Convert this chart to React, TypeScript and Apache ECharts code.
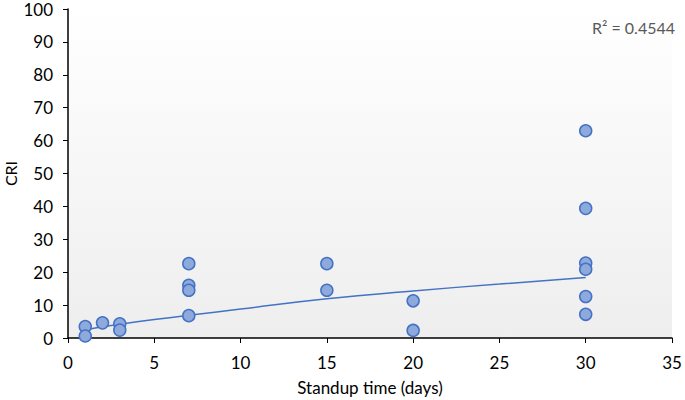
import React, { useEffect, useRef } from "react";
import * as echarts from "echarts";

const standupDays = [1, 1, 2, 3, 3, 7, 7, 7, 7, 15, 15, 20, 20, 30, 30, 30, 30, 30, 30];
const criValues = [3.5, 0.6, 4.6, 4.3, 2.4, 22.6, 16.0, 14.5, 6.8, 22.6, 14.5, 11.3, 2.3, 63.0, 39.4, 22.8, 20.9, 12.6, 7.2];
const trendX = [1, 2, 3, 5, 7, 10, 15, 20, 25, 30];
const trendY = [2.4, 3.4, 4.2, 5.6, 6.9, 8.8, 11.9, 14.3, 16.4, 18.4];
const xTicks = { min: 0, max: 35, interval: 5 };
const yTicks = { min: 0, max: 100, interval: 10 };
const rSquaredLabel = "R² = 0.4544";

export default function App() {
  const ref = useRef<HTMLDivElement>(null);
  useEffect(() => {
    if (!ref.current) return;
    const chart = echarts.init(ref.current, null, { renderer: "svg" });
    const font = "Lato, 'Open Sans', sans-serif";
    chart.setOption({
      animation: false,
      backgroundColor: "#ffffff",
      grid: {
        left: 68,
        right: 13,
        top: 9,
        bottom: 62,
        containLabel: false,
        outerBoundsMode: "none",
        show: true,
        borderWidth: 0,
        backgroundColor: new echarts.graphic.LinearGradient(0, 0, 0, 1, [
          { offset: 0, color: "#ffffff" },
          { offset: 1, color: "#eeeeee" },
        ]),
      },
      xAxis: {
        type: "value",
        min: xTicks.min,
        max: xTicks.max,
        interval: xTicks.interval,
        name: "Standup time (days)",
        nameLocation: "middle",
        nameGap: 41,
        nameMoveOverlap: false,
        nameTextStyle: { fontFamily: font, fontSize: 17, color: "#000" },
        axisLine: { show: true, onZero: false, lineStyle: { color: "#000", width: 1.5 } },
        axisTick: { show: true, inside: false, length: 5, lineStyle: { color: "#000" } },
        axisLabel: { fontFamily: font, fontSize: 17, color: "#000", margin: 16 },
        splitLine: { show: false },
      },
      yAxis: {
        type: "value",
        min: yTicks.min,
        max: yTicks.max,
        interval: yTicks.interval,
        name: "CRI",
        nameLocation: "middle",
        nameGap: 50,
        nameMoveOverlap: false,
        nameRotate: 90,
        nameTextStyle: { fontFamily: font, fontSize: 16, color: "#000" },
        axisLine: { show: true, onZero: false, lineStyle: { color: "#000", width: 1.5 } },
        axisTick: { show: true, inside: false, length: 5, lineStyle: { color: "#000" } },
        axisLabel: { fontFamily: font, fontSize: 17, color: "#000", margin: 15 },
        splitLine: { show: false },
      },
      graphic: [
        {
          type: "text",
          right: 10,
          top: 19,
          style: { text: rSquaredLabel, fontFamily: font, fontSize: 16, fill: "#595959" },
        },
      ],
      series: [
        {
          type: "line",
          data: trendX.map((x, i) => [x, trendY[i]]),
          smooth: true,
          showSymbol: false,
          symbol: "none",
          lineStyle: { color: "#4472c4", width: 1.5 },
          z: 2,
        },
        {
          type: "scatter",
          data: standupDays.map((x, i) => [x, criValues[i]]),
          symbolSize: 12,
          itemStyle: { color: "#8ea9db", borderColor: "#4472c4", borderWidth: 1.5, opacity: 1 },
          z: 3,
        },
      ],
    });
    return () => chart.dispose();
  }, []);
  return <div ref={ref} style={{ width: 685, height: 400, position: "absolute", left: 0, top: 0 }} />;
}
